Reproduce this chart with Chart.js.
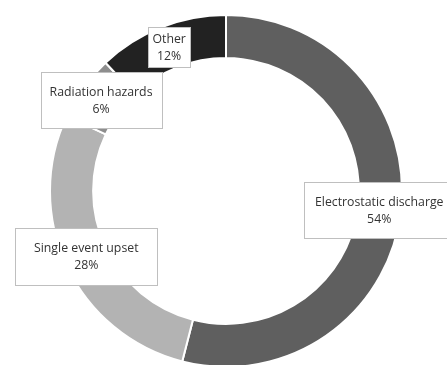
<!DOCTYPE html>
<html>
<head>
<meta charset="utf-8">
<script src="https://cdn.jsdelivr.net/npm/chart.js@4"></script>
<style>
  html, body { margin: 0; padding: 0; background: #ffffff; overflow: hidden; }
  #wrap { position: relative; width: 447px; height: 400px; }
</style>
</head>
<body>
<div id="wrap"><canvas id="c"></canvas></div>
<script>
// Causes of spacecraft anomalies (share of total)
const categories = ['Electrostatic discharge', 'Single event upset', 'Radiation hazards', 'Other'];
const shares = [54, 28, 6, 12];
const sliceColors = ['#5f5f5f', '#b3b3b3', '#8e8e8e', '#222222'];

// Callout box sizes for each slice label (width, height in px)
const boxSizes = [[150, 56], [142, 57], [121, 56], [42, 40]];

const calloutPlugin = {
  id: 'callouts',
  afterDatasetsDraw(chart) {
    const ctx = chart.ctx;
    const meta = chart.getDatasetMeta(0);
    ctx.save();
    ctx.font = '12.3px "Open Sans", "Noto Sans", sans-serif';
    ctx.textAlign = 'center';
    ctx.textBaseline = 'middle';
    meta.data.forEach((arc, i) => {
      const p = arc.tooltipPosition();
      const [w, h] = boxSizes[i];
      const x0 = Math.round(p.x - w / 2) + 0.5;
      const y0 = Math.round(p.y - h / 2) + 0.5;
      ctx.fillStyle = '#ffffff';
      ctx.fillRect(x0, y0, w, h);
      ctx.strokeStyle = '#bfbfbf';
      ctx.lineWidth = 1;
      ctx.strokeRect(x0, y0, w, h);
      ctx.fillStyle = '#333333';
      ctx.fillText(categories[i], p.x, p.y - 8);
      ctx.fillText(shares[i] + '%', p.x, p.y + 9);
    });
    ctx.restore();
  }
};

new Chart(document.getElementById('c'), {
  type: 'doughnut',
  data: {
    labels: categories,
    datasets: [{
      data: shares,
      backgroundColor: sliceColors,
      borderColor: '#ffffff',
      borderWidth: 2
    }]
  },
  options: {
    responsive: true,
    maintainAspectRatio: false,
    animation: false,
    cutout: '75.5%',
    layout: { padding: { top: 14, bottom: 32, left: 49, right: 44 } },
    plugins: {
      legend: { display: false },
      tooltip: { enabled: false }
    }
  },
  plugins: [calloutPlugin]
});
</script>
</body>
</html>
